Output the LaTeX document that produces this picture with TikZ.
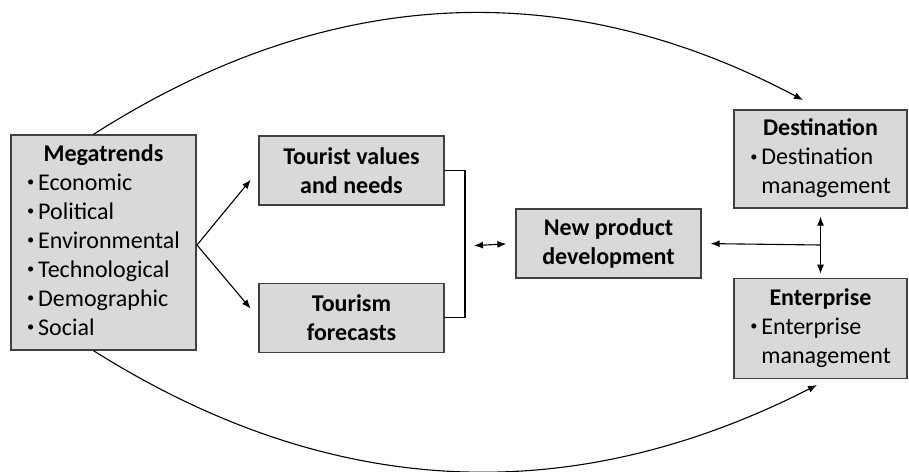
\documentclass[tikz,border=0pt]{standalone}
\usepackage{graphicx}
\usepackage{fontspec}
\setmainfont{Carlito}
\usetikzlibrary{positioning,arrows.meta}
\newcommand{\blt}{\raisebox{0.3ex}{\scalebox{0.6}{\textbullet}}\hspace{4pt}}

\begin{document}
\begin{tikzpicture}[x=1pt,y=-1pt,
  >={Latex[length=9pt,width=7pt]},
  font=\fontsize{24}{29}\selectfont,
  box/.style={draw=black!75,fill=black!15,line width=1.3pt,
    minimum width=185pt,minimum height=69pt,inner sep=0pt},
  link/.style={line width=1.1pt}]
\useasboundingbox (0,0) rectangle (909,471);
\node[box,minimum height=215pt] (mega) at (103.5,242.5)
  {\begin{tabular}{@{}l@{}}
   \multicolumn{1}{@{}c@{}}{\textbf{Megatrends}}\\
   \blt Economic\\ \blt Political\\ \blt Environmental\\
   \blt Technological\\ \blt Demographic\\ \blt Social
   \end{tabular}};
\node[box,align=center] (values) at (351.5,170.5) {\textbf{Tourist values}\\\textbf{and needs}};
\node[box,align=center] (forecasts) [below=77pt of values] {\textbf{Tourism}\\\textbf{forecasts}};
\node[box,align=center] (npd) at (608.5,243.5) {\textbf{New product}\\\textbf{development}};
\node[box,minimum width=173pt,minimum height=98pt] (dest) at (820.5,159)
  {\begin{tabular}{@{}l@{}}
   \multicolumn{1}{@{}c@{}}{\textbf{Destination}}\\
   \blt Destination\\ \phantom{\blt}management
   \end{tabular}};
\node[box,minimum width=173pt,minimum height=100pt] (ent) [below=69pt of dest]
  {\begin{tabular}{@{}l@{}}
   \multicolumn{1}{@{}c@{}}{\textbf{Enterprise}}\\
   \blt Enterprise\\ \phantom{\blt}management
   \end{tabular}};
% joints for the connectors
\coordinate (split) at (197,245);
\coordinate (brk) at (465,246);
\coordinate (mid) at (820.5,245);
\coordinate (dtip) at (803,100);
\coordinate (etip) at (817,385);
\draw[link,->,shorten >=12pt] (split) -- (values.west);
\draw[link,->,shorten >=12pt] (split) -- (forecasts.west);
\draw[link] (values.east) -- (brk |- values.east) |- (forecasts.east);
\draw[link,<->,shorten <=9pt,shorten >=9pt] (brk) -- (npd.west);
\draw[link,<->,shorten <=8pt,shorten >=4pt] (dest.south) -- (ent.north);
\draw[link,->,shorten >=9pt] (mid) -- (npd.east);
% long arcs from the megatrends
\draw[link,->] ([xshift=-10pt]mega.north) .. controls (346,-27) and (584,-16) .. (dtip);
\draw[link,->] ([xshift=-10pt]mega.south) .. controls (348,511) and (589,501) .. (etip);
\end{tikzpicture}
\end{document}
